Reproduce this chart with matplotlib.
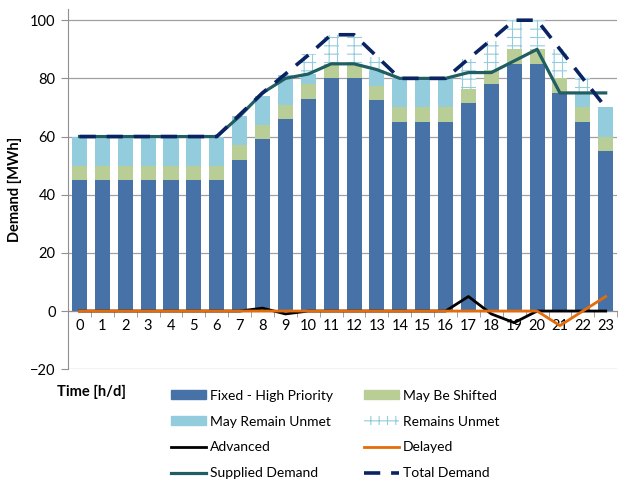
import matplotlib
matplotlib.use('Agg')
import matplotlib.pyplot as plt
import numpy as np
from matplotlib.patches import Patch
from matplotlib.lines import Line2D

plt.rcParams['font.family'] = ['Lato', 'DejaVu Sans']
plt.rcParams['hatch.linewidth'] = 0.8

# hourly demand components [MWh]
hours = list(range(24))
fixed = [45, 45, 45, 45, 45, 45, 45, 52, 59, 66, 73, 80, 80, 72.5,
         65, 65, 65, 71.5, 78, 85, 85, 75, 65, 55]
shifted = [5] * 24
may_unmet = [10, 10, 10, 10, 10, 10, 10, 10, 10, 10, 3.5, 0, 0, 5,
             10, 10, 10, 0, 0, 0, 0, 0, 5, 10]
remains_unmet = [0, 0, 0, 0, 0, 0, 0, 0, 0, 0, 7, 10, 10, 5,
                 0, 0, 0, 10, 10, 10, 10, 10, 5, 0]
advanced = [0, 0, 0, 0, 0, 0, 0, 0, 1, -1, 0, 0, 0, 0,
            0, 0, 0, 5, -1, -4, 0, 0, 0, 0]
delayed = [0] * 21 + [-5, 0, 5]
supplied = [60, 60, 60, 60, 60, 60, 60, 67, 75, 80, 81.5, 85, 85, 83,
            80, 80, 80, 82, 82, 86, 90, 75, 75, 75]
total = [60, 60, 60, 60, 60, 60, 60, 67.5, 75, 81.5, 88, 95, 95, 87.5,
         80, 80, 80, 86.7, 93.3, 100, 100, 90, 80, 70]

c_fixed = '#4672A8'
c_shift = '#B9CE97'
c_unmet = '#93CDDD'
c_supp = '#215E63'
c_total = '#0A2463'
c_delay = '#E46C0A'

fig = plt.figure(figsize=(6.19, 4.82), dpi=100)
ax = fig.add_axes([0.110, 0.234, 0.887, 0.747])

x = np.array(hours)
w = 0.66
b1 = np.array(fixed)
b2 = b1 + np.array(shifted)
b3 = b2 + np.array(may_unmet)
ax.bar(x, fixed, w, color=c_fixed, zorder=2)
ax.bar(x, shifted, w, bottom=b1, color=c_shift, zorder=2)
ax.bar(x, may_unmet, w, bottom=b2, color=c_unmet, zorder=2)
ax.bar(x, remains_unmet, w, bottom=b3, facecolor='white', edgecolor=c_unmet,
       hatch='++', linewidth=0, zorder=2)

ax.plot(x, advanced, color='black', lw=2, zorder=3)
ax.plot(x, delayed, color=c_delay, lw=2, zorder=4)
ax.plot(x, supplied, color=c_supp, lw=2.3, zorder=5)
ax.plot(x, total, color=c_total, lw=2.6, dashes=(4.5, 3), zorder=6)

ax.set_xlim(-0.5, 23.5)
ax.set_ylim(-20, 103.8)
ax.set_yticks(range(-20, 101, 20))
ax.grid(axis='y', color='#A0A0A0', lw=0.9, zorder=0)
ax.set_axisbelow(True)
for s in ['top', 'right']:
    ax.spines[s].set_visible(False)
ax.spines['left'].set_color('#909090')
ax.spines['bottom'].set_position(('data', 0))
ax.spines['bottom'].set_color('#909090')
ax.set_xticks(x)
ax.set_xticklabels([str(h) for h in hours], fontsize=10.5)
ax.set_xticks(np.arange(-0.5, 24, 1), minor=True)
ax.tick_params(axis='x', which='major', length=0, pad=6)
ax.tick_params(axis='x', which='minor', length=4, color='#909090')
ax.tick_params(axis='y', length=5, color='#909090', labelsize=10.5, pad=4)
ax.set_ylabel('Demand [MWh]', fontsize=10.5, fontweight='bold', labelpad=6)

fig.text(0.092, 0.187, 'Time [h/d]', fontsize=10.5, fontweight='bold',
         ha='left', va='center')

handles = [
    Patch(color=c_fixed, label='Fixed - High Priority'),
    Patch(color=c_unmet, label='May Remain Unmet'),
    Line2D([], [], color='black', lw=2, label='Advanced'),
    Line2D([], [], color=c_supp, lw=2.3, label='Supplied Demand'),
    Patch(color=c_shift, label='May Be Shifted'),
    Patch(facecolor='white', edgecolor=c_unmet, hatch='++', lw=0, label='Remains Unmet'),
    Line2D([], [], color=c_delay, lw=2, label='Delayed'),
    Line2D([], [], color=c_total, lw=2.6, dashes=(4.5, 3), label='Total Demand'),
]
fig.legend(handles=handles, ncol=2, loc='upper left', bbox_to_anchor=(0.268, 0.203),
           frameon=False, fontsize=10, handlelength=2.5, handleheight=0.65,
           handletextpad=0.3, columnspacing=2.2, labelspacing=1.0,
           borderaxespad=0)

fig.savefig('out.png', dpi=100)
